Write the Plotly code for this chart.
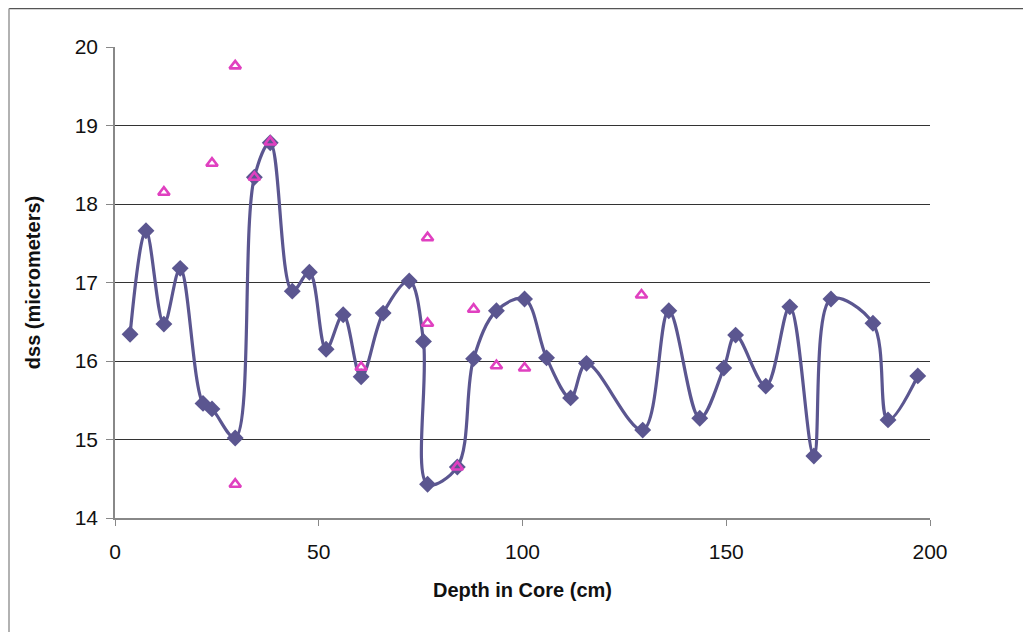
import plotly.graph_objects as go

# Series 1: smoothed line with diamonds
depth1 = [3.7, 7.6, 12.0, 16.0, 21.6, 23.8, 29.5, 34.2, 38.1, 43.5, 47.7, 51.8, 56.0,
          60.4, 65.8, 72.2, 75.7, 76.7, 84.0, 88.0, 93.6, 100.5, 105.9, 111.8, 115.7,
          129.5, 135.9, 143.5, 149.4, 152.3, 159.7, 165.6, 171.5, 175.7, 186.0, 189.7, 197.0]
dss1 = [16.34, 17.66, 16.47, 17.18, 15.46, 15.39, 15.02, 18.34, 18.78, 16.89, 17.13, 16.15, 16.59,
        15.80, 16.61, 17.02, 16.25, 14.43, 14.65, 16.03, 16.64, 16.79, 16.04, 15.53, 15.97,
        15.12, 16.64, 15.27, 15.91, 16.33, 15.68, 16.69, 14.79, 16.79, 16.48, 15.25, 15.81]

# Series 2: open triangles
depth2 = [12.0, 23.8, 29.5, 29.5, 34.2, 38.1, 60.4, 76.7, 76.7, 84.0, 88.0, 93.6, 100.5, 129.2]
dss2 = [18.15, 18.52, 19.76, 14.43, 18.34, 18.79, 15.92, 17.57, 16.48, 14.65, 16.66, 15.94, 15.91, 16.84]

x_ticks = [0, 50, 100, 150, 200]
y_ticks = [14, 15, 16, 17, 18, 19, 20]

line_col = "#5B5690"
pink = "#E040C0"

W, H = 1023, 624
L, T = 107, 39
PW, PH = 815, 471

fig = go.Figure()
fig.add_trace(go.Scatter(
    x=depth1, y=dss1, mode="lines+markers",
    line=dict(color=line_col, width=3.2, shape="spline", smoothing=1.0),
    marker=dict(symbol="diamond", size=13, color=line_col),
    showlegend=False, cliponaxis=False))
fig.add_trace(go.Scatter(
    x=depth2, y=dss2, mode="markers",
    marker=dict(symbol="triangle-up-open", size=10, color=pink, line=dict(color=pink, width=2.6)),
    showlegend=False, cliponaxis=False))

fig.update_layout(
    width=W, height=H,
    margin=dict(l=L, r=W - L - PW, t=T, b=H - T - PH, pad=0),
    paper_bgcolor="white", plot_bgcolor="white",
    font=dict(family="Liberation Sans, Arial, sans-serif", color="#111"),
    xaxis=dict(range=[0, 200], tickvals=x_ticks, showgrid=False, zeroline=False,
               showline=True, linecolor="#888", linewidth=1.5,
               ticks="outside", ticklen=6, tickcolor="#888",
               tickfont=dict(size=21), ticklabelstandoff=8,
               title=dict(text="<b>Depth in Core (cm)</b>", font=dict(size=20), standoff=21)),
    yaxis=dict(range=[14, 20], tickvals=y_ticks, showgrid=True, gridcolor="#333", gridwidth=1,
               zeroline=False, showline=True, linecolor="#888", linewidth=1.5,
               ticks="outside", ticklen=7, tickcolor="#888",
               tickfont=dict(size=21), ticklabelstandoff=4,
               title=dict(text="<b>dss (micrometers)</b>", font=dict(size=20), standoff=29)),
    shapes=[
        dict(type="line", xref="paper", yref="paper", x0=(1 - L) / PW, x1=1.2,
             y0=(T + PH - 0.5) / PH, y1=(T + PH - 0.5) / PH,
             line=dict(color="#555", width=1.5)),
        dict(type="line", xref="paper", yref="paper", x0=(1 - L) / PW, x1=(1 - L) / PW,
             y0=(T + PH - 0.5) / PH, y1=-0.3,
             line=dict(color="#999", width=1.5)),
    ],
)

fig.write_html("out.html")
